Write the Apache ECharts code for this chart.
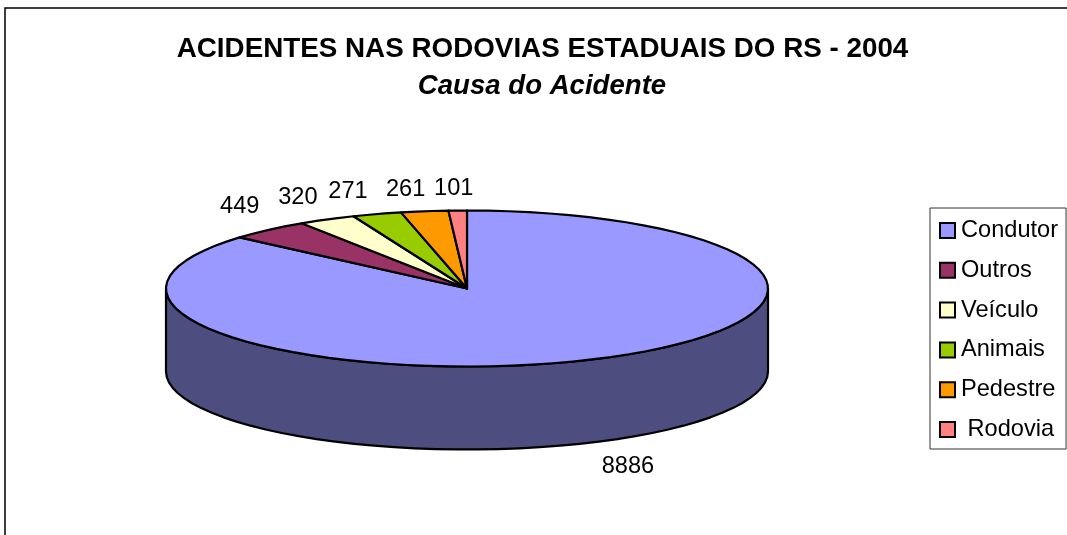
<!DOCTYPE html>
<html>
<head>
<meta charset="utf-8">
<style>html,body{margin:0;padding:0;background:#fff}#c{width:1067px;height:535px}</style>
<script src="https://cdn.jsdelivr.net/npm/echarts@6/dist/echarts.min.js"></script>
</head>
<body>
<div id="c"></div>
<script>
const categories = ['Condutor', 'Outros', 'Veículo', 'Animais', 'Pedestre', 'Rodovia'];
const values = [8886, 449, 320, 271, 261, 101];
const colors = ['#9999FF', '#993366', '#FFFFCC', '#99CC00', '#FF9900', '#FF8080'];
const sideColors = ['#4D4D80', '#4D1A33', '#808066', '#4D6600', '#804D00', '#804040'];
const titleText = 'ACIDENTES NAS RODOVIAS ESTADUAIS DO RS - 2004';
const subtitleText = 'Causa do Acidente';

// layout of the tilted disc, and how far each label sits from its slice's rim midpoint
const CX = 467, CY = 288.5, RX = 301, RY = 78, DEPTH = 83;
const labelNudge = [[36, 24], [-29, -23], [-29, -22], [-29, -23], [-19, -22], [-4, -22]];
const total = values.reduce((a, b) => a + b, 0);

const rim = (deg, dy) => {
  const r = deg * Math.PI / 180;
  return [CX + RX * Math.sin(r), CY - RY * Math.cos(r) + (dy || 0)];
};
const arc = (from, to, dy) => {
  const pts = [], n = Math.max(1, Math.ceil((to - from) / 4));
  for (let i = 0; i <= n; i++) pts.push(rim(from + (to - from) * i / n, dy));
  return pts;
};

const series = categories.map((name, idx) => ({
  name,
  type: 'custom',
  coordinateSystem: 'none',
  silent: true,
  z: 2 + idx,
  itemStyle: { color: colors[idx], borderColor: '#000', borderWidth: 2 },
  data: [[values[idx]]],
  renderItem(params, api) {
    const v = api.value(0);
    const before = values.slice(0, idx).reduce((a, b) => a + b, 0);
    const start = before / total * 360;
    const end = start + v / total * 360;
    const line = { stroke: '#000', lineWidth: 2.2, lineJoin: 'round' };
    const children = [];
    const wallFrom = Math.max(start, 90), wallTo = Math.min(end, 270);
    if (wallTo > wallFrom) {
      children.push({
        type: 'polygon',
        shape: { points: arc(wallFrom, wallTo, 0).concat(arc(wallFrom, wallTo, DEPTH).reverse()) },
        style: Object.assign({ fill: sideColors[idx] }, line)
      });
    }
    children.push({
      type: 'polygon',
      shape: { points: [[CX, CY]].concat(arc(start, end, 0)) },
      style: Object.assign({ fill: colors[idx] }, line)
    });
    const mid = rim((start + end) / 2, 0);
    const wallDrop = ((start + end) / 2 > 90 && (start + end) / 2 < 270) ? DEPTH : 0;
    children.push({
      type: 'text',
      style: {
        text: String(v),
        x: mid[0] + labelNudge[idx][0],
        y: mid[1] + wallDrop + labelNudge[idx][1],
        align: 'center',
        verticalAlign: 'middle',
        fill: '#000',
        font: '23.6px "Liberation Sans", Arial, sans-serif'
      }
    });
    return { type: 'group', children };
  }
}));

const chart = echarts.init(document.getElementById('c'), null, { renderer: 'canvas' });
chart.setOption({
  animation: false,
  backgroundColor: '#fff',
  title: [
    { text: titleText, left: 542.5, top: 49, padding: 0, textAlign: 'center', textVerticalAlign: 'middle',
      textStyle: { fontFamily: '"Liberation Sans", Arial, sans-serif', fontSize: 27.8, fontWeight: 'bold', color: '#000' } },
    { text: subtitleText, left: 542, top: 86, padding: 0, textAlign: 'center', textVerticalAlign: 'middle',
      textStyle: { fontFamily: '"Liberation Sans", Arial, sans-serif', fontSize: 27.6, fontWeight: 'bold', fontStyle: 'italic', color: '#000' } }
  ],
  legend: {
    orient: 'vertical',
    left: 930,
    top: 208,
    padding: [10.5, 8, 7.5, 9],
    itemWidth: 15,
    itemHeight: 15,
    itemGap: 15.8,
    selectedMode: false,
    backgroundColor: '#fff',
    borderColor: '#333',
    borderWidth: 1,
    borderRadius: 0,
    icon: 'rect',
    formatter: n => n === 'Rodovia' ? ' ' + n : n,
    textStyle: { fontFamily: '"Liberation Sans", Arial, sans-serif', fontSize: 23.6, color: '#000', padding: [0, 0, 3, 1] },
    data: categories.map((name, i) => ({
      name,
      icon: 'rect',
      itemStyle: { color: colors[i], borderColor: '#000', borderWidth: 2 }
    }))
  },
  graphic: [{
    type: 'rect',
    silent: true,
    z: -10,
    shape: { x: 5, y: 8, width: 1200, height: 700 },
    style: { fill: 'none', stroke: '#000', lineWidth: 1.5 }
  }],
  series
});
</script>
</body>
</html>
